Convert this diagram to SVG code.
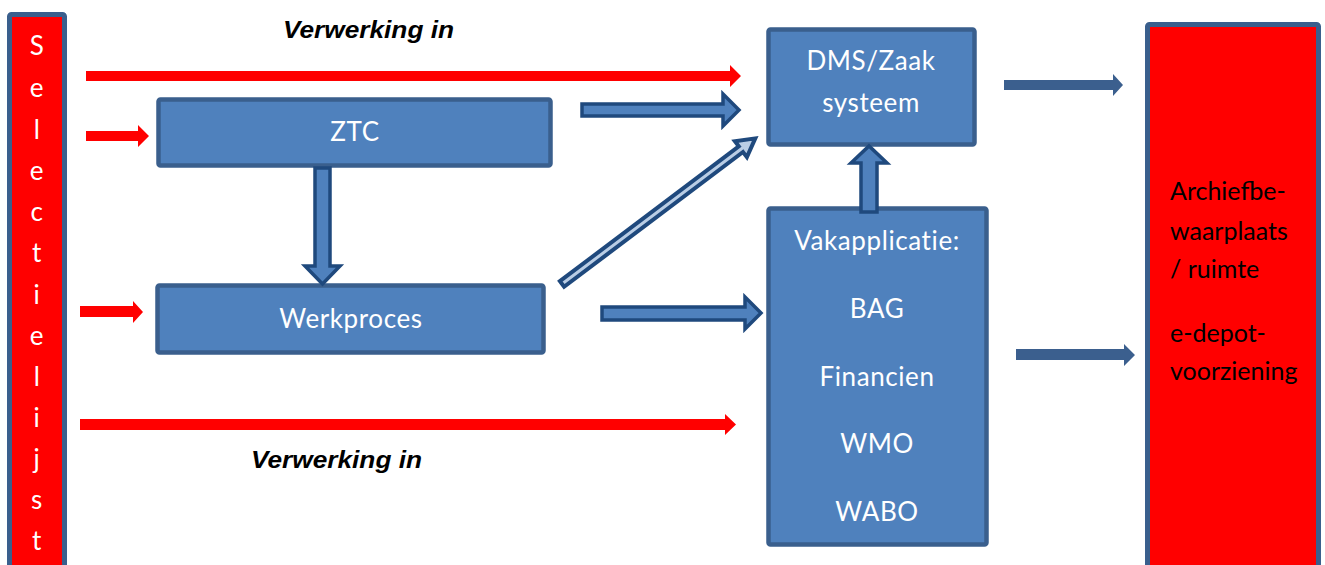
<svg xmlns="http://www.w3.org/2000/svg" width="1325" height="565" viewBox="0 0 1325 565">
<style>
.box{fill:#4f81bd;stroke:#3a5f8d;stroke-width:4.5}
.red{fill:#ff0000;stroke:#3a5f8d;stroke-width:5}
.t{font-family:Lato,"Open Sans",sans-serif;font-size:26px;letter-spacing:0.6px;fill:#ffffff;text-anchor:middle;dominant-baseline:central}
.tl{font-family:Lato,"Open Sans",sans-serif;font-size:25px;fill:#000000;dominant-baseline:central}
.ra{fill:#ff0000}
.ba{fill:#3b5f8e}
.blk{fill:#4f81bd;stroke:#1f497d;stroke-width:3.5;stroke-linejoin:miter}
.v{font-family:"Liberation Sans",Arial,sans-serif;font-size:24px;font-weight:bold;font-style:italic;fill:#000000}
</style>
<rect width="1325" height="565" fill="#ffffff"/>
<g id="selectielijst">
<rect class="red" x="9.5" y="14.5" width="55" height="570" rx="2"/>
<text class="t" x="37" y="45">S</text>
<text class="t" x="37" y="87">e</text>
<text class="t" x="37" y="129">l</text>
<text class="t" x="37" y="170">e</text>
<text class="t" x="37" y="211">c</text>
<text class="t" x="37" y="252">t</text>
<text class="t" x="37" y="294">i</text>
<text class="t" x="37" y="335">e</text>
<text class="t" x="37" y="376">l</text>
<text class="t" x="37" y="417">i</text>
<text class="t" x="37" y="458">j</text>
<text class="t" x="37" y="499">s</text>
<text class="t" x="37" y="540">t</text>
</g>
<g id="ztc">
<rect class="box" x="158.5" y="99.5" width="392" height="66" rx="2"/>
<text class="t" x="355" y="131">ZTC</text>
</g>
<g id="werkproces">
<rect class="box" x="157.5" y="285.5" width="386" height="67" rx="2"/>
<text class="t" x="351" y="318">Werkproces</text>
</g>
<g id="dms">
<rect class="box" x="768.5" y="29.5" width="206" height="115" rx="2"/>
<text class="t" x="871" y="60">DMS/Zaak</text>
<text class="t" x="871" y="102">systeem</text>
</g>
<g id="vakapplicatie">
<rect class="box" x="768.5" y="208.5" width="218" height="336" rx="2"/>
<text class="t" x="877" y="240">Vakapplicatie:</text>
<text class="t" x="877" y="308">BAG</text>
<text class="t" x="877" y="376">Financien</text>
<text class="t" x="877" y="443">WMO</text>
<text class="t" x="877" y="511">WABO</text>
</g>
<g id="archief">
<rect class="red" x="1147.5" y="24.5" width="171" height="570" rx="2"/>
<text class="tl" x="1170" y="190">Archiefbe-</text>
<text class="tl" x="1170" y="230">waarplaats</text>
<text class="tl" x="1170" y="268">/ ruimte</text>
<text class="tl" x="1170" y="332">e-depot-</text>
<text class="tl" x="1170" y="370">voorziening</text>
</g>
<g id="labels">
<text class="v" x="283" y="38" textLength="171" lengthAdjust="spacingAndGlyphs">Verwerking in</text>
<text class="v" x="251" y="468" textLength="171" lengthAdjust="spacingAndGlyphs">Verwerking in</text>
</g>
<g id="connectors">
<polygon class="ra" points="86,71 730,71 730,65 741,76 730,87 730,81 86,81"/>
<polygon class="ra" points="86,131 138,131 138,125 149,136 138,147 138,141 86,141"/>
<polygon class="ra" points="80,306 133,306 133,301 143,312 133,323 133,317 80,317"/>
<polygon class="ra" points="80,419 725,419 725,414 736,424.5 725,435 725,430 80,430"/>
<polygon class="blk" points="582,104 723,104 723,94 739,110 723,126 723,116 582,116"/>
<polygon class="blk" points="602,307 745,307 745,297 761,313 745,329 745,320 602,320"/>
<polygon class="blk" points="315,168 330,168 330,266 340,266 322.5,284 305,266 315,266"/>
<polygon class="blk" points="861,212 877,212 877,163 887,163 869,146 851,163 861,163"/>
<polygon class="blk" style="fill:#b9cde5;stroke-width:4" transform="translate(562,284) rotate(-37)" points="0,-3.5 224,-3.5 224,-10 242,0 224,10 224,3.5 0,3.5"/>
<polygon class="ba" points="1004,80 1113,80 1113,74 1123,85 1113,96 1113,90 1004,90"/>
<polygon class="ba" points="1016,349 1124,349 1124,344 1135,355 1124,366 1124,360 1016,360"/>
</g>
</svg>
